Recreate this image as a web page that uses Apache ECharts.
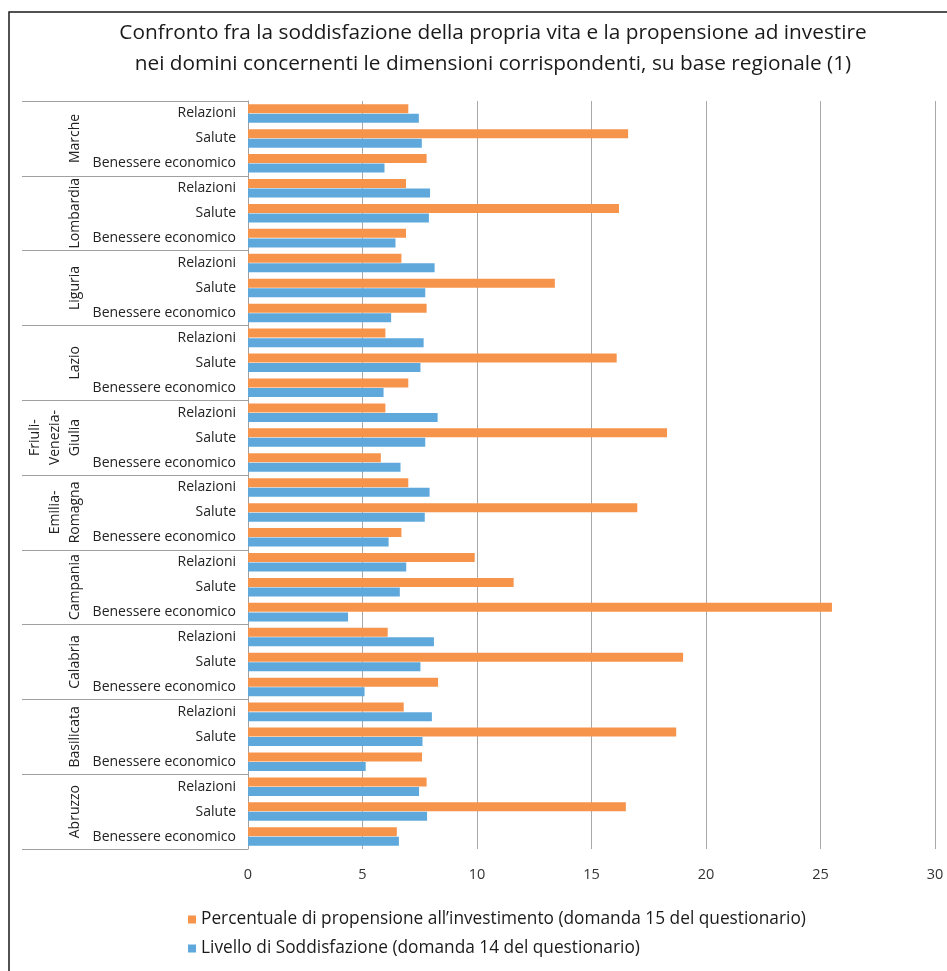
<!DOCTYPE html>
<html>
<head>
<meta charset="utf-8">
<script src="https://cdn.jsdelivr.net/npm/echarts@6/dist/echarts.min.js"></script>
<style>
  html, body { margin: 0; padding: 0; background: #ffffff; }
  #chart { width: 947px; height: 971px; }
</style>
</head>
<body>
<div id="chart"></div>
<script>
// Regions, listed top to bottom
const regions = [
  'Marche', 'Lombardia', 'Liguria', 'Lazio', 'Friuli-\nVenezia-\nGiulia',
  'Emilia-\nRomagna', 'Campania', 'Calabria', 'Basilicata', 'Abruzzo'
];
// Life domains inside each region, top to bottom
const domains = ['Relazioni', 'Salute', 'Benessere economico'];

// Percentuale di propensione all'investimento (domanda 15), per region: [Relazioni, Salute, Benessere economico]
const propensione = [
  7.0, 16.6, 7.8,    // Marche
  6.9, 16.2, 6.9,    // Lombardia
  6.7, 13.4, 7.8,    // Liguria
  6.0, 16.1, 7.0,    // Lazio
  6.0, 18.3, 5.8,    // Friuli-Venezia-Giulia
  7.0, 17.0, 6.7,    // Emilia-Romagna
  9.9, 11.6, 25.5,   // Campania
  6.1, 19.0, 8.3,    // Calabria
  6.8, 18.7, 7.6,    // Basilicata
  7.8, 16.5, 6.5     // Abruzzo
];

// Livello di soddisfazione (domanda 14), same order
const soddisfazione = [
  7.46, 7.59, 5.96,
  7.95, 7.90, 6.44,
  8.15, 7.74, 6.25,
  7.67, 7.53, 5.92,
  8.28, 7.74, 6.66,
  7.93, 7.72, 6.14,
  6.91, 6.63, 4.37,
  8.12, 7.53, 5.09,
  8.03, 7.62, 5.14,
  7.47, 7.82, 6.59
];

const seriesNames = [
  'Percentuale di propensione all\u2019investimento (domanda 15 del questionario)',
  'Livello di Soddisfazione (domanda 14 del questionario)'
];

const xTicks = { min: 0, max: 30, interval: 5 };

// one category per (region, domain) pair
const categories = [];
regions.forEach(function () {
  domains.forEach(function (d) { categories.push(d); });
});

const FONT = 'Open Sans';
const chart = echarts.init(document.getElementById('chart'), null, { renderer: 'canvas' });

chart.setOption({
  backgroundColor: '#ffffff',
  animation: false,
  textStyle: { fontFamily: FONT },
  title: {
    text: 'Confronto fra la soddisfazione della propria vita e la propensione ad investire\nnei domini concernenti le dimensioni corrispondenti, su base regionale (1)',
    left: 488,
    top: 13,
    textAlign: 'center',
    textStyle: {
      fontFamily: FONT,
      fontSize: 20.8,
      fontWeight: 'normal',
      color: '#1a1a1a',
      lineHeight: 31
    }
  },
  legend: {
    orient: 'vertical',
    left: 183,
    top: 906,
    itemWidth: 8,
    itemHeight: 8,
    itemGap: 12,
    icon: 'rect',
    data: seriesNames,
    textStyle: { fontFamily: FONT, fontSize: 17.3, color: '#1a1a1a', padding: [0, 0, 0, 0] }
  },
  graphic: [{
    type: 'rect',
    shape: { x: 9, y: 12, width: 1000, height: 1000 },
    style: { fill: 'none', stroke: '#1a1a1a', lineWidth: 1.5 },
    silent: true
  }],
  grid: { left: 248, right: 12, top: 101, bottom: 122, containLabel: false },
  xAxis: {
    type: 'value',
    min: xTicks.min,
    max: xTicks.max,
    interval: xTicks.interval,
    axisLine: { show: false },
    axisTick: { show: false },
    axisLabel: { fontFamily: FONT, fontSize: 14.5, color: '#333333', margin: 18 },
    splitLine: { show: true, lineStyle: { color: '#a8a8a8', width: 1 } }
  },
  yAxis: [{
    type: 'category',
    data: categories,
    inverse: true,
    axisLine: { show: true, lineStyle: { color: '#a0a0a0', width: 1 } },
    axisTick: { show: false },
    axisLabel: { interval: 0, fontFamily: FONT, fontSize: 14, color: '#222222', margin: 12 }
  }, {
    type: 'category',
    data: regions,
    inverse: true,
    position: 'left',
    axisLine: { show: false },
    axisTick: { show: true, length: 226, lineStyle: { color: '#a0a0a0', width: 1 } },
    axisLabel: {
      interval: 0, rotate: 90, fontFamily: FONT, fontSize: 14, color: '#222222',
      margin: 163, lineHeight: 20, align: 'center'
    }
  }],
  series: [{
    name: seriesNames[0],
    type: 'bar',
    yAxisIndex: 0,
    data: propensione,
    barWidth: 9,
    barGap: '6%',
    itemStyle: { color: '#F7944B' }
  }, {
    name: seriesNames[1],
    type: 'bar',
    yAxisIndex: 0,
    data: soddisfazione,
    barWidth: 9,
    barGap: '6%',
    itemStyle: { color: '#5FA8DC' }
  }]
});
</script>
</body>
</html>
